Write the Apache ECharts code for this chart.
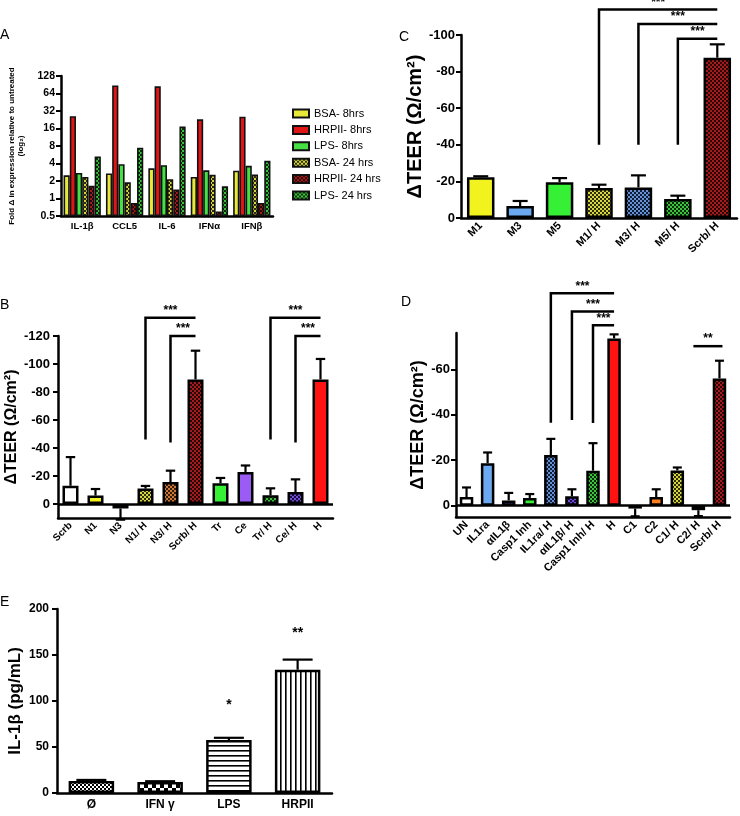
<!DOCTYPE html>
<html>
<head>
<meta charset="utf-8">
<script src="https://cdn.jsdelivr.net/npm/echarts@6/dist/echarts.min.js"></script>
<style>
html, body { margin: 0; padding: 0; background: #fff; }
#chart { width: 740px; height: 816px; }
</style>
</head>
<body>
<div id="chart"></div>
<script>
// ---- A: fold change (log2) ----
const genesA = ["IL-1β", "CCL5", "IL-6", "IFNα", "IFNβ"];
const namesA = ["BSA- 8hrs", "HRPII- 8hrs", "LPS- 8hrs", "BSA- 24 hrs", "HRPII- 24 hrs", "LPS- 24 hrs"];
const bsa8 = [2.5, 2.7, 3.3, 2.35, 3.0];
const hrp8 = [26, 88, 85, 23, 25.5];
const lps8 = [2.75, 3.9, 3.75, 3.05, 3.65];
const bsa24 = [2.35, 1.9, 2.15, 2.55, 2.6];
const hrp24 = [1.65, 0.84, 1.43, 0.6, 0.84];
const lps24 = [5.3, 7.5, 17.4, 1.62, 4.45];
const ticksA = [0.5, 1, 2, 4, 8, 16, 32, 64, 128];

// ---- B ----
const catsB = ["Scrb", "N1", "N3", "N1/ H", "N3/ H", "Scrb/ H", "Tr", "Ce", "Tr/ H", "Ce/ H", "H"];
const valsB = [-13, -6, 3.2, -11, -15.7, -89, -14.8, -22.8, -6.2, -8.6, -89];
const errB = [20.5, 4.7, 8, 1.9, 8.1, 20.5, 3.8, 4.7, 5, 9, 14.6];
const ticksB = [-120, -100, -80, -60, -40, -20, 0];
// [from, to, bottom, top, label]
const sigB = [[3, 5, -46, -133, "***"], [4, 5, -44, -120, "***"], [8, 10, -46, -133, "***"], [9, 10, -44, -120, "***"]];

// ---- C ----
const catsC = ["M1", "M3", "M5", "M1/ H", "M3/ H", "M5/ H", "Scrb/ H"];
const valsC = [-22.2, -6.5, -19.6, -16.4, -16.7, -10.4, -87.6];
const errC = [0.6, 2.8, 2.2, 1.8, 6.6, 1.8, 7.3];
const ticksC = [-100, -80, -60, -40, -20, 0];
const sigC = [[3, 6, -40, -114, "***"], [4, 6, -40, -106, "***"], [5, 6, -40, -98, "***"]];

// ---- D ----
const catsD = ["UN", "IL1ra", "αIL1β", "Casp1 Inh", "IL1ra/ H", "αIL1β/ H", "Casp1 Inh/ H", "H", "C1", "C2", "C1/ H", "C2/ H", "Scrb/ H"];
const valsD = [-3.8, -18.7, -2.3, -3.4, -22.3, -4.1, -15.4, -73.6, 1.3, -3.8, -15.5, 2, -56];
const errD = [4.2, 4.7, 3.3, 1.7, 7.1, 3.1, 12.1, 1.8, 3.4, 3.4, 1.3, 2.6, 7.8];
const ticksD = [-60, -40, -20, 0];
const sigD = [[4, 7, -36.5, -93.5, "***"], [5, 7, -37.7, -85.5, "***"], [6, 7, -36.4, -79.4, "***"], [11, 12, -70.2, -70.2, "**"]];

// ---- E ----
const catsE = ["Ø", "IFN γ", "LPS", "HRPII"];
const valsE = [13, 12, 57.5, 134];
const errE = [1.2, 0.8, 2.5, 11];
const ticksE = [0, 50, 100, 150, 200];
const starsE = [[2, 96, "*"], [3, 174, "**"]];

const FONT = "Liberation Sans, Arial, Helvetica, sans-serif";

function checker(bg, fg, s) {
  const cv = document.createElement("canvas");
  cv.width = cv.height = s * 2;
  const ctx = cv.getContext("2d");
  ctx.fillStyle = bg; ctx.fillRect(0, 0, s * 2, s * 2);
  ctx.fillStyle = fg; ctx.fillRect(0, 0, s, s); ctx.fillRect(s, s, s, s);
  return { image: cv, repeat: "repeat" };
}
function stripes(horizontal, period, w) {
  const cv = document.createElement("canvas");
  cv.width = cv.height = period;
  const ctx = cv.getContext("2d");
  ctx.fillStyle = "#fff"; ctx.fillRect(0, 0, period, period);
  ctx.fillStyle = "#000";
  if (horizontal) ctx.fillRect(0, 0, period, w); else ctx.fillRect(0, 0, w, period);
  return { image: cv, repeat: "repeat" };
}

const yellow = "#f2f21e", red = "#ff1212", green = "#36f036", blue = "#6aa8f0",
      purple = "#9b5cf6", orange = "#d87a3a";
const chkYellow = checker("#2e2e0c", "#d6d640", 2);
const chkOrange = checker("#341c0c", "#d07838", 2);
const chkRed = checker("#2c0606", "#a41c1c", 2);
const chkGreen = checker("#0c2c0c", "#3cc43c", 2);
const chkPurple = checker("#1c0c44", "#7050d4", 2);
const chkBlue = checker("#0e1e36", "#6890d4", 2);

const colorsA = ["#e8e83a", "#e01616", "#44e044", chkYellow, chkRed, chkGreen];
const colorsB = ["#ffffff", yellow, orange, chkYellow, chkOrange, chkRed, green, purple, chkGreen, chkPurple, red];
const colorsC = [yellow, blue, green, chkYellow, chkBlue, chkGreen, chkRed];
const colorsD = ["#ffffff", blue, "#7a44d4", green, chkBlue, chkPurple, chkGreen, red, "#b5b54a", "#ff7f1f", chkYellow, chkRed, chkRed];
const colorsE = [checker("#ffffff", "#000000", 2), checker("#ffffff", "#000000", 4), stripes(true, 5, 1.6), stripes(false, 5, 1.6)];

function catAxis(gi, cats, fontSize, rotate, margin) {
  return {
    type: "category", gridIndex: gi, data: cats,
    axisLine: { onZero: false, lineStyle: { color: "#000", width: 2.5 } },
    axisTick: { alignWithLabel: true, length: 6, lineStyle: { color: "#000", width: 2 } },
    axisLabel: { rotate: rotate, interval: 0, fontSize: fontSize, fontWeight: "bold", color: "#000", margin: margin, fontFamily: FONT }
  };
}
function valAxis(gi, min, max, ticks, inverse, name, nameSize, nameGap, labelSize, margin) {
  return {
    type: "value", gridIndex: gi, min: min, max: max, inverse: inverse,
    name: name, nameLocation: "middle", nameRotate: 90, nameGap: nameGap,
    nameTextStyle: { fontSize: nameSize, fontWeight: "bold", color: "#000", fontFamily: FONT },
    axisLine: { show: true, lineStyle: { color: "#000", width: 2.5 } },
    axisTick: { show: true, length: 5, lineStyle: { color: "#000", width: 2 }, customValues: ticks },
    axisLabel: { fontSize: labelSize, fontWeight: "bold", color: "#000", margin: margin, customValues: ticks, fontFamily: FONT },
    splitLine: { show: false }
  };
}

function barSeries(gi, vals, colors, width, zeroLine) {
  const s = {
    type: "bar", xAxisIndex: gi, yAxisIndex: gi, barWidth: width,
    data: vals.map((v, i) => ({ value: v, itemStyle: { color: colors[i] } })),
    itemStyle: { borderColor: "#000", borderWidth: 2.5 }
  };
  if (zeroLine) {
    s.markLine = {
      silent: true, symbol: ["none", "none"], label: { show: false },
      lineStyle: { color: "#000", width: 2.5, type: "solid" }, data: [{ yAxis: 0 }]
    };
  }
  return s;
}

function errSeries(gi, vals, errs, cap) {
  return {
    type: "custom", xAxisIndex: gi, yAxisIndex: gi, z: 3, clip: false,
    encode: { x: 0, y: 1 },
    data: vals.map((v, i) => [i, v, errs[i]]),
    renderItem: function (params, api) {
      const i = api.value(0), v = api.value(1), e = api.value(2);
      const end = v < 0 ? v - e : v + e;
      const p0 = api.coord([i, v]), p1 = api.coord([i, end]);
      const st = { stroke: "#000", lineWidth: 2.2 };
      return { type: "group", children: [
        { type: "line", shape: { x1: p0[0], y1: p0[1], x2: p1[0], y2: p1[1] }, style: st },
        { type: "line", shape: { x1: p1[0] - cap, y1: p1[1], x2: p1[0] + cap, y2: p1[1] }, style: st }
      ] };
    }
  };
}

function sigSeries(gi, sig) {
  return {
    type: "custom", xAxisIndex: gi, yAxisIndex: gi, z: 4, clip: false,
    encode: { x: 0, y: 1 },
    data: sig.map(s => [s[0], s[3]]),
    renderItem: function (params, api) {
      const s = sig[params.dataIndex];
      const low = api.coord([s[0], s[2]]);
      const top = api.coord([s[0], s[3]]);
      const end = api.coord([s[1], s[3]]);
      const pts = s[2] === s[3]
        ? [[top[0] - 5, top[1]], [end[0] + 3, end[1]]]
        : [low, top, end];
      const n = pts.length;
      return { type: "group", children: [
        { type: "polyline", shape: { points: pts }, style: { stroke: "#000", lineWidth: 2.5, fill: null } },
        { type: "text", style: {
          text: s[4], x: (pts[n - 2][0] + pts[n - 1][0]) / 2, y: top[1] - 1,
          align: "center", verticalAlign: "bottom", fontSize: 12, fontWeight: "bold", fill: "#000", fontFamily: FONT
        } }
      ] };
    }
  };
}

const seriesA = [bsa8, hrp8, lps8, bsa24, hrp24, lps24].map((d, k) => ({
  type: "bar", name: namesA[k], xAxisIndex: 0, yAxisIndex: 0,
  barGap: "0%", barCategoryGap: "12%", data: d,
  itemStyle: { color: colorsA[k], borderColor: "#111", borderWidth: 1.6 }
}));

const option = {
  animation: false,
  backgroundColor: "#fff",
  textStyle: { fontFamily: FONT },
  legend: {
    orient: "vertical", left: 287, top: 103, itemWidth: 16, itemHeight: 8, itemGap: 5.4,
    icon: "rect", data: namesA,
    textStyle: { fontSize: 11, color: "#000", fontFamily: FONT }
  },
  grid: [
    { left: 61, top: 76, width: 212, height: 140, outerBoundsMode: "none" },
    { left: 58, top: 336, width: 275, height: 182, outerBoundsMode: "none" },
    { left: 461, top: 35, width: 276, height: 183, outerBoundsMode: "none" },
    { left: 456, top: 333, width: 274, height: 184, outerBoundsMode: "none" },
    { left: 57, top: 609, width: 275, height: 184, outerBoundsMode: "none" }
  ],
  xAxis: [
    catAxis(0, genesA, 9.5, 0, 5),
    catAxis(1, catsB, 10, 45, 6),
    catAxis(2, catsC, 11, 45, 6),
    catAxis(3, catsD, 11, 45, 6),
    catAxis(4, catsE, 12, 0, 6)
  ],
  yAxis: [
    Object.assign(valAxis(0, 0.5, 128, ticksA, false, "Fold Δ in expression relative to untreated\n(log₂)", 8, 36, 10.5, 6),
      { type: "log", logBase: 2, startValue: 0.5, nameTextStyle: { fontSize: 8, fontWeight: "bold", color: "#000", lineHeight: 9, fontFamily: FONT } }),
    valAxis(1, -120, 10, ticksB, true, "ΔTEER (Ω/cm²)", 16, 36, 13, 8),
    valAxis(2, -100, 0, ticksC, true, "ΔTEER (Ω/cm²)", 20, 31, 13, 6),
    valAxis(3, -76, 5, ticksD, true, "ΔTEER (Ω/cm²)", 18, 28, 13, 6),
    valAxis(4, 0, 200, ticksE, false, "IL-1β (pg/mL)", 17, 33, 12, 8)
  ],
  series: seriesA.concat([
    barSeries(1, valsB, colorsB, 16, true),
    errSeries(1, valsB, errB, 4.7),
    sigSeries(1, sigB),
    barSeries(2, valsC, colorsC, 27.5, false),
    errSeries(2, valsC, errC, 7.5),
    sigSeries(2, sigC),
    barSeries(3, valsD, colorsD, 13.5, true),
    errSeries(3, valsD, errD, 4.5),
    sigSeries(3, sigD),
    barSeries(4, valsE, colorsE, 45.5, false),
    errSeries(4, valsE, errE, 15),
    {
      type: "custom", xAxisIndex: 4, yAxisIndex: 4, z: 4, encode: { x: 0, y: 1 },
      data: starsE.map(s => [s[0], s[1]]),
      renderItem: function (params, api) {
        const p = api.coord([api.value(0), api.value(1)]);
        return { type: "text", style: {
          text: starsE[params.dataIndex][2], x: p[0], y: p[1], align: "center", verticalAlign: "middle",
          fontSize: 14, fontWeight: "bold", fill: "#000", fontFamily: FONT
        } };
      }
    }
  ]),
  graphic: [
    { type: "text", left: 0, top: 28, style: { text: "A", fontSize: 14, fill: "#000", fontFamily: FONT } },
    { type: "text", left: 0, top: 298, style: { text: "B", fontSize: 14, fill: "#000", fontFamily: FONT } },
    { type: "text", left: 399, top: 30, style: { text: "C", fontSize: 14, fill: "#000", fontFamily: FONT } },
    { type: "text", left: 401, top: 295, style: { text: "D", fontSize: 14, fill: "#000", fontFamily: FONT } },
    { type: "text", left: 0, top: 595, style: { text: "E", fontSize: 14, fill: "#000", fontFamily: FONT } }
  ]
};

const chart = echarts.init(document.getElementById("chart"));
chart.setOption(option);
</script>
</body>
</html>
